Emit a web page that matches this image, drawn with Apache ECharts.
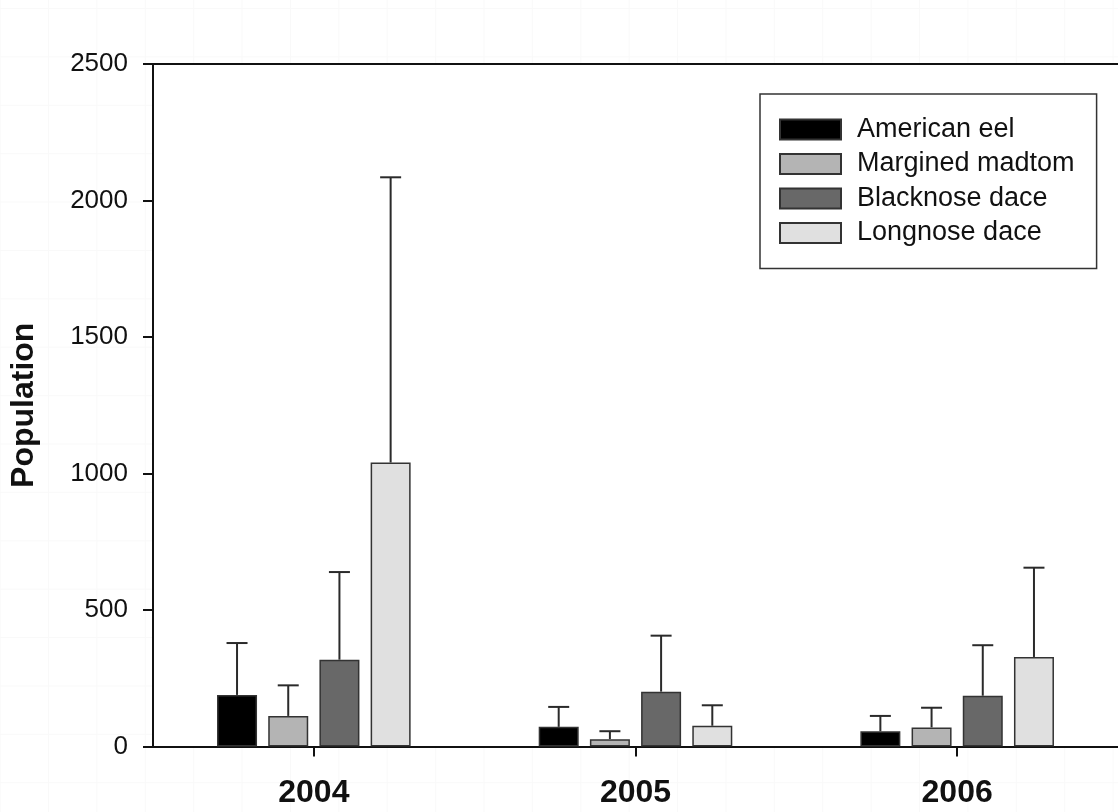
<!DOCTYPE html>
<html>
<head>
<meta charset="utf-8">
<script src="https://cdn.jsdelivr.net/npm/echarts@6/dist/echarts.min.js"></script>
<style>
  html, body { margin: 0; padding: 0; background: #ffffff; }
  #chart {
    width: 1118px; height: 812px;
    background-color: #ffffff;
    background-image:
      linear-gradient(to right, #f9f9f9 1px, transparent 1px),
      linear-gradient(to bottom, #f9f9f9 1px, transparent 1px);
    background-size: 48.4px 48.4px;
    background-position: 48px 8px;
  }
</style>
</head>
<body>
<div id="chart"></div>
<script>
// ---- data ----
const years = ['2004', '2005', '2006'];
const speciesNames = ['American eel', 'Margined madtom', 'Blacknose dace', 'Longnose dace'];
// mean population
const eelMean = [189, 72, 56];
const madtomMean = [112, 27, 70];
const blacknoseMean = [318, 201, 186];
const longnoseMean = [1040, 76, 328];
// top of error bar
const eelUpper = [379, 145, 112];
const madtomUpper = [224, 56, 142];
const blacknoseUpper = [639, 406, 371];
const longnoseUpper = [2085, 151, 655];
const yTicks = [0, 500, 1000, 1500, 2000, 2500];

// ---- styling ----
const fills = ['#000000', '#b4b4b4', '#686868', '#e0e0e0'];
const BAR_W = 40;
const GAP = 11.2;
const FONT = '"Liberation Sans", Arial, Helvetica, sans-serif';

const means = [eelMean, madtomMean, blacknoseMean, longnoseMean];
const uppers = [eelUpper, madtomUpper, blacknoseUpper, longnoseUpper];

const series = [];
speciesNames.forEach((name, si) => {
  series.push({
    name: name,
    type: 'bar',
    xAxisIndex: 0,
    yAxisIndex: 0,
    barWidth: BAR_W,
    barGap: (GAP / BAR_W * 100) + '%',
    data: means[si],
    itemStyle: { color: fills[si], borderColor: '#333', borderWidth: 1.5 },
    emphasis: { disabled: true },
    z: 2
  });
});
speciesNames.forEach((name, si) => {
  series.push({
    name: name,
    type: 'custom',
    xAxisIndex: 0,
    yAxisIndex: 0,
    data: years.map((y, ci) => [ci, means[si][ci], uppers[si][ci]]),
    z: 3,
    silent: true,
    renderItem: function (params, api) {
      const off = (si - 1.5) * (BAR_W + GAP);
      const base = api.coord([api.value(0), api.value(1)]);
      const top = api.coord([api.value(0), api.value(2)]);
      const x = base[0] + off;
      const style = { stroke: '#2a2a2a', lineWidth: 2, fill: null };
      return {
        type: 'group',
        children: [
          { type: 'line', shape: { x1: x, y1: base[1], x2: x, y2: top[1] }, style: style },
          { type: 'line', shape: { x1: x - 10.5, y1: top[1], x2: x + 10.5, y2: top[1] }, style: style }
        ]
      };
    }
  });
});

const chart = echarts.init(document.getElementById('chart'), null, { renderer: 'canvas' });
chart.setOption({
  animation: false,
  backgroundColor: 'transparent',
  grid: {
    left: 153, top: 64, width: 971, height: 682.5,
    show: true, backgroundColor: '#ffffff', borderWidth: 0,
    containLabel: false
  },
  legend: {
    data: speciesNames,
    orient: 'vertical',
    left: 760, top: 94,
    padding: [22, 22, 22, 19],
    backgroundColor: '#ffffff',
    borderColor: '#333',
    borderWidth: 1.5,
    itemWidth: 61,
    itemHeight: 20,
    itemGap: 7.5,
    icon: 'rect',
    align: 'left',
    selectedMode: false,
    textStyle: {
      fontFamily: FONT, fontSize: 27, color: '#111',
      lineHeight: 27, padding: [0, 0, 0, 11]
    }
  },
  xAxis: [
    {
      type: 'category',
      data: years,
      position: 'bottom',
      boundaryGap: true,
      axisLine: { show: true, lineStyle: { color: '#111', width: 2 } },
      axisTick: { show: true, alignWithLabel: true, length: 10, inside: false, lineStyle: { color: '#111', width: 2 } },
      axisLabel: { fontFamily: FONT, fontSize: 32, fontWeight: 'bold', color: '#111', margin: 31 },
      splitLine: { show: false }
    },
    {
      type: 'category',
      data: years,
      position: 'top',
      axisLine: { show: true, onZero: false, lineStyle: { color: '#111', width: 2 } },
      axisTick: { show: false },
      axisLabel: { show: false },
      splitLine: { show: false }
    }
  ],
  yAxis: {
    type: 'value',
    min: yTicks[0],
    max: yTicks[yTicks.length - 1],
    interval: 500,
    name: 'Population',
    nameLocation: 'middle',
    nameGap: 113,
    nameTextStyle: { fontFamily: FONT, fontSize: 32, fontWeight: 'bold', color: '#111' },
    axisLine: { show: true, lineStyle: { color: '#111', width: 2 } },
    axisTick: { show: true, length: 10, lineStyle: { color: '#111', width: 2 } },
    axisLabel: {
      fontFamily: FONT, fontSize: 26, color: '#111', margin: 25,
      formatter: function (v) { return String(v); }
    },
    splitLine: { show: false }
  },
  series: series
});
</script>
</body>
</html>
